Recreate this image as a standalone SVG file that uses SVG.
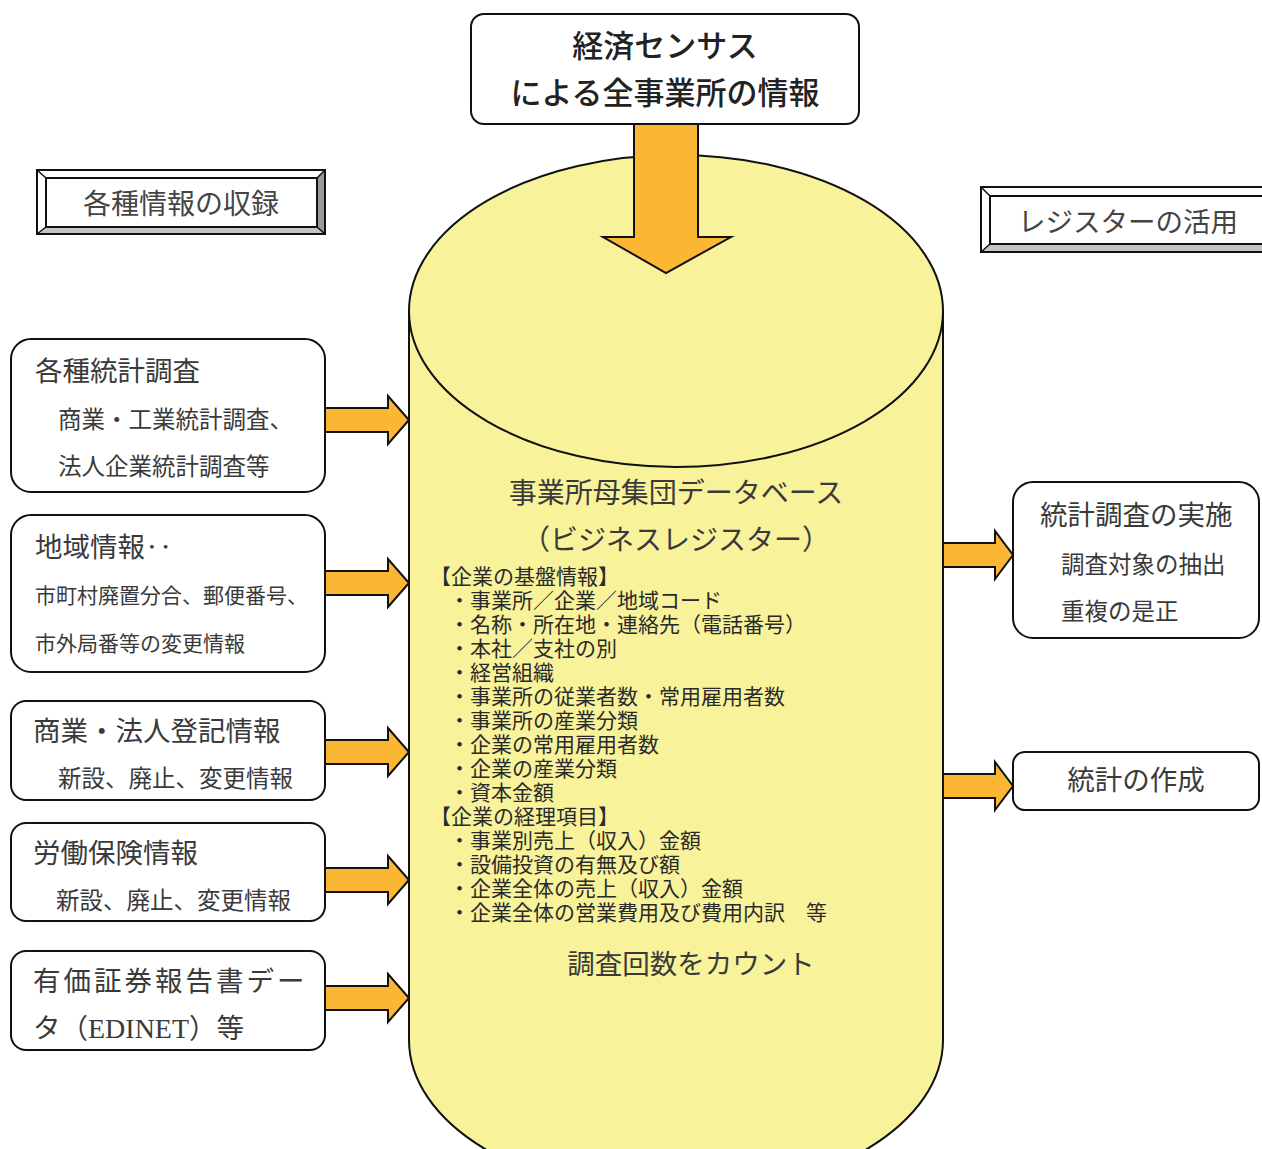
<svg xmlns="http://www.w3.org/2000/svg" width="1262" height="1149" viewBox="0 0 1262 1149">
<defs>
<style>
text{font-family:"Noto Sans CJK JP","Noto Sans CJK SC",sans-serif;fill:#3a3a3a}
.box{fill:#fff;stroke:#111;stroke-width:2}
.arr{fill:#FBB634;stroke:#111;stroke-width:2;stroke-linejoin:miter}
.h{font-size:27.5px}
.s{font-size:23.5px}
.xs{font-size:21px}
.li{font-size:21px;fill:#2a2a2a}
.ctr{text-anchor:middle}
</style>
</defs>
<rect width="1262" height="1149" fill="#fff"/>

<g id="database">
<path d="M409,311 L409,1040 A267,156 0 0 0 943,1040 L943,311 Z" fill="#F8F29B" stroke="#111" stroke-width="2"/>
<ellipse cx="676" cy="311" rx="267" ry="156" fill="#F8F29B" stroke="#111" stroke-width="2"/>
<text class="ctr" x="676" y="503" style="font-size:28px">事業所母集団データベース</text>
<text class="ctr" x="676" y="550" style="font-size:28px">（ビジネスレジスター）</text>
<text class="li" x="430" y="584">【企業の基盤情報】</text>
<text class="li" x="449" y="608">・事業所／企業／地域コード</text>
<text class="li" x="449" y="632">・名称・所在地・連絡先（電話番号）</text>
<text class="li" x="449" y="656">・本社／支社の別</text>
<text class="li" x="449" y="680">・経営組織</text>
<text class="li" x="449" y="704">・事業所の従業者数・常用雇用者数</text>
<text class="li" x="449" y="728">・事業所の産業分類</text>
<text class="li" x="449" y="752">・企業の常用雇用者数</text>
<text class="li" x="449" y="776">・企業の産業分類</text>
<text class="li" x="449" y="800">・資本金額</text>
<text class="li" x="430" y="824">【企業の経理項目】</text>
<text class="li" x="449" y="848">・事業別売上（収入）金額</text>
<text class="li" x="449" y="872">・設備投資の有無及び額</text>
<text class="li" x="449" y="896">・企業全体の売上（収入）金額</text>
<text class="li" x="449" y="920">・企業全体の営業費用及び費用内訳　等</text>
<text class="h ctr" x="691" y="974">調査回数をカウント</text>
</g>

<g id="connectors">
<path class="arr" d="M634,124 L698,124 L698,237 L731,237 L666,273 L603,237 L634,237 Z"/>
<path class="arr" d="M325,408 L388,408 L388,396 L409,420 L388,444 L388,432 L325,432 Z"/>
<path class="arr" d="M325,571 L388,571 L388,559 L409,583 L388,607 L388,595 L325,595 Z"/>
<path class="arr" d="M325,740 L388,740 L388,728 L409,752 L388,776 L388,764 L325,764 Z"/>
<path class="arr" d="M325,868 L388,868 L388,856 L409,880 L388,904 L388,892 L325,892 Z"/>
<path class="arr" d="M325,986 L388,986 L388,974 L409,998 L388,1022 L388,1010 L325,1010 Z"/>
<path class="arr" d="M943,543 L995,543 L995,531 L1013,555 L995,579 L995,567 L943,567 Z"/>
<path class="arr" d="M943,774 L995,774 L995,762 L1013,786 L995,810 L995,798 L943,798 Z"/>
</g>

<g id="census">
<rect class="box" x="471" y="14" width="388" height="110" rx="13"/>
<text class="ctr" x="665" y="57" style="font-size:31px;font-weight:500;fill:#222">経済センサス</text>
<text class="ctr" x="665" y="104" style="font-size:31px;font-weight:500;fill:#222">による全事業所の情報</text>
</g>

<g id="banner-left">
<rect x="37" y="170" width="288" height="64" fill="#fff" stroke="#111" stroke-width="2"/>
<polygon points="325,170 325,234 317,227 317,178" fill="#999"/>
<polygon points="37,234 325,234 317,227 46,227" fill="#c4c4c4"/>
<path d="M37,170 L46,178 M325,170 L317,178 M37,234 L46,227 M325,234 L317,227" stroke="#111" stroke-width="1.5"/>
<rect x="37" y="170" width="288" height="64" fill="none" stroke="#111" stroke-width="2"/>
<rect x="46" y="178" width="271" height="49" fill="#fff" stroke="#111" stroke-width="2"/>
<text class="ctr" x="181" y="214" style="font-size:28px;fill:#444">各種情報の収録</text>
</g>

<g id="banner-right">
<rect x="981" y="187" width="300" height="65" fill="#fff" stroke="#111" stroke-width="2"/>
<polygon points="981,252 1281,252 1281,244 990,244" fill="#c4c4c4"/>
<path d="M981,187 L990,196 M981,252 L990,244" stroke="#111" stroke-width="1.5"/>
<rect x="981" y="187" width="300" height="65" fill="none" stroke="#111" stroke-width="2"/>
<rect x="990" y="196" width="291" height="48" fill="#fff" stroke="#111" stroke-width="2"/>
<text class="h" x="1018" y="232" style="fill:#444">レジスターの活用</text>
</g>

<g id="survey">
<rect class="box" x="11" y="339" width="314" height="153" rx="20"/>
<text class="h" x="35" y="381">各種統計調査</text>
<text class="s" x="58" y="428">商業・工業統計調査、</text>
<text class="s" x="58" y="475">法人企業統計調査等</text>
</g>

<g id="regional">
<rect class="box" x="11" y="515" width="314" height="157" rx="20"/>
<text class="h" x="35" y="557">地域情報‥</text>
<text class="xs" x="35" y="603">市町村廃置分合、郵便番号、</text>
<text class="xs" x="35" y="651">市外局番等の変更情報</text>
</g>

<g id="registry">
<rect class="box" x="11" y="701" width="314" height="99" rx="15"/>
<text class="h" x="33" y="741">商業・法人登記情報</text>
<text class="s" x="58" y="787">新設、廃止、変更情報</text>
</g>

<g id="labor">
<rect class="box" x="11" y="823" width="314" height="98" rx="15"/>
<text class="h" x="33" y="863">労働保険情報</text>
<text class="s" x="56" y="909">新設、廃止、変更情報</text>
</g>

<g id="edinet">
<rect class="box" x="11" y="951" width="314" height="99" rx="15"/>
<text class="h" x="33" y="991" style="letter-spacing:3px">有価証券報告書デー</text>
<text class="h" x="33" y="1038">タ（<tspan style="font-family:'Liberation Serif',serif;font-size:28px">EDINET</tspan>）等</text>
</g>

<g id="implement">
<rect class="box" x="1013" y="482" width="246" height="156" rx="20"/>
<text class="h" x="1040" y="525">統計調査の実施</text>
<text class="s" x="1061" y="573">調査対象の抽出</text>
<text class="s" x="1061" y="620">重複の是正</text>
</g>

<g id="produce">
<rect class="box" x="1013" y="752" width="246" height="58" rx="12"/>
<text class="h ctr" x="1136" y="790">統計の作成</text>
</g>
</svg>
